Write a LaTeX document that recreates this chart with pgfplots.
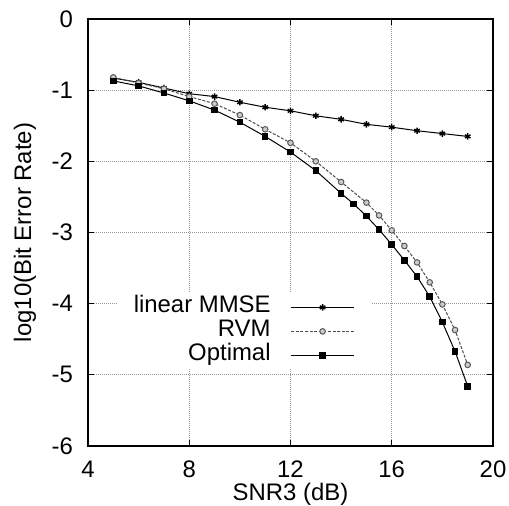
\documentclass[border=0pt]{standalone}
\usepackage{fontspec}
\setmainfont{Liberation Sans}
\usepackage{pgfplots}
\pgfplotsset{compat=1.18}

\begin{document}
\begin{tikzpicture}
\begin{axis}[
  name=ax,
  scale only axis, width=202.5bp, height=213.5bp,
  xmin=4, xmax=20, ymin=-6, ymax=0,
  xtick={4,8,12,16,20}, ytick={-6,-5,-4,-3,-2,-1,0},
  xticklabels={4,8,12,16,20},
  yticklabels={-6,-5,-4,-3,-2,-1,0},
  font=\fontsize{12}{14}\selectfont,
  tick label style={font=\fontsize{12}{14}\selectfont},
  xticklabel style={yshift=-4bp},
  yticklabel style={xshift=-4bp},
  xlabel={SNR3 (dB)}, ylabel={log10(Bit Error Rate)},
  xlabel style={at={(axis description cs:0.5,-0.1265)}, anchor=base},
  ylabel style={at={(axis description cs:-0.1407,0.5)}, anchor=base},
  tick align=inside, major tick length=3bp,
  axis line style={line width=0.8bp},
  every tick/.style={black, line width=0.5bp},
  grid=major, grid style={gray!80, line width=0.4bp, dash pattern=on 0.5bp off 0.5bp},
  legend plot pos=right, legend cell align=right,
  legend image code/.code={\draw[mark repeat=2,mark phase=2,#1]
    plot coordinates {(0bp,0bp) (15.75bp,0bp) (31.5bp,0bp)};},
  legend style={draw=none, fill=white, at={(axis cs:15.22,-3.85)}, anchor=north east,
    inner xsep=8.5bp, inner ysep=1bp, column sep=10bp,
    nodes={inner sep=0pt, text height=8.5bp, text depth=3.5bp},
    font=\fontsize{12}{14}\selectfont},
]
\addplot[black, line width=0.5bp, mark=asterisk, mark size=1.6bp,
  mark options={solid, line width=0.7bp}] coordinates {
  (5,-0.83) (6,-0.89) (7,-0.97) (8,-1.05) (9,-1.09) (10,-1.17) (11,-1.24)
  (12,-1.29) (13,-1.36) (14,-1.41) (15,-1.48) (16,-1.52) (17,-1.57)
  (18,-1.61) (19,-1.65)
};
\addlegendentry{linear MMSE}
\addplot[black!70, line width=0.5bp, dash pattern=on 1.5bp off 0.8bp,
  mark=*, mark size=1.4bp,
  mark options={solid, draw=black!65, fill=black!20, line width=0.5bp}] coordinates {
  (5,-0.82) (6,-0.90) (7,-0.98) (8,-1.09) (9,-1.19) (10,-1.35) (11,-1.55)
  (12,-1.74) (13,-2.00) (14,-2.29) (15,-2.58) (15.5,-2.76) (16,-2.97)
  (16.5,-3.19) (17,-3.42) (17.5,-3.70) (18,-4.01) (18.5,-4.37) (19,-4.86)
};
\addlegendentry{RVM}
\addplot[black, line width=0.5bp, mark=square*, mark size=1.4bp,
  mark options={solid}] coordinates {
  (5,-0.87) (6,-0.94) (7,-1.04) (8,-1.15) (9,-1.28) (10,-1.45) (11,-1.65)
  (12,-1.87) (13,-2.13) (14,-2.45) (14.5,-2.60) (15,-2.77) (15.5,-2.96)
  (16,-3.17) (16.5,-3.39) (17,-3.62) (17.5,-3.90) (18,-4.26) (18.5,-4.67)
  (19,-5.16)
};
\addlegendentry{Optimal}
\end{axis}
\pgfresetboundingbox
\path ([shift={(-44bp,-30bp)}]ax.south west) rectangle ([shift={(8bp,9.5bp)}]ax.north east);
\end{tikzpicture}
\end{document}
